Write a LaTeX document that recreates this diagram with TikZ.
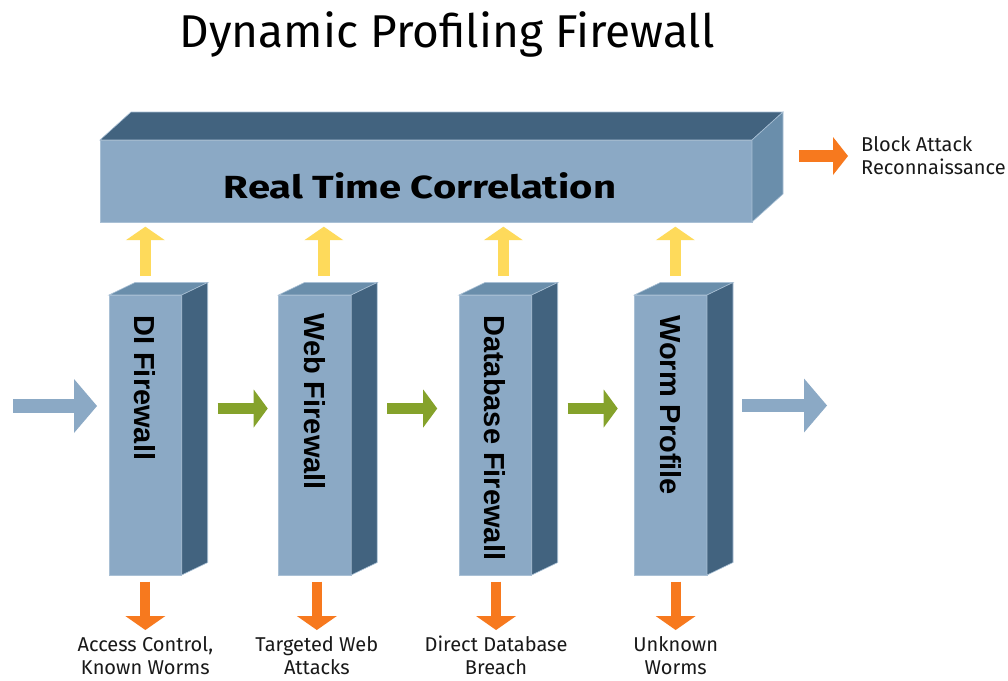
\documentclass[tikz,border=0pt]{standalone}
\usepackage{fontspec}
\setmainfont{Fira Sans}
\newfontfamily\pillarfont{Liberation Sans}
\newfontfamily\widefont[FakeStretch=1.25]{Fira Sans}
\usetikzlibrary{arrows.meta,calc,positioning}

\definecolor{frontblue}{HTML}{8BA9C5}
\definecolor{darkface}{HTML}{42637F}
\definecolor{midface}{HTML}{6A8EAB}
\definecolor{edgeblue}{HTML}{A9C0D5}
\definecolor{feedyellow}{HTML}{FEDA5B}
\definecolor{alarmorange}{HTML}{F7791E}
\definecolor{passgreen}{HTML}{85A22B}

\tikzset{
  front/.style={fill=frontblue,draw=edgeblue,line width=0.6pt,inner sep=0pt,outer sep=0pt},
  face/.style={fill=#1,draw=edgeblue,line width=0.6pt},
  pillar/.style={front,minimum width=72.7pt,minimum height=280pt,anchor=north west},
  pillarlabel/.style={font=\pillarfont\bfseries\fontsize{29}{33}\selectfont,rotate=-90,anchor=west,inner sep=0pt},
  note/.style={font=\fontsize{20}{23}\selectfont,inner sep=0pt,align=center,text=black!90},
  inflow/.style={draw=frontblue,line width=13.5pt,-{Triangle[length=23pt,width=54pt,line width=0pt]}},
  pass/.style={draw=passgreen,line width=11pt,-{Triangle[length=14pt,width=38pt,line width=0pt]}},
  feed/.style={draw=feedyellow,line width=11.5pt,-{Triangle[length=13.5pt,width=39pt,line width=0pt]}},
  drop/.style={draw=alarmorange,line width=10pt,-{Triangle[length=14pt,width=40pt,line width=0pt]}},
  alarm/.style={draw=alarmorange,line width=12pt,-{Triangle[length=15pt,width=38pt,line width=0pt]}}
}

\begin{document}
\begin{tikzpicture}[x=1pt,y=-1pt]
\path[fill=white] (0,0) rectangle (1008,680);
\useasboundingbox (0,0) rectangle (1008,680);

\node[font=\fontsize{46}{50}\selectfont] (title) at (447,34) {Dynamic Profiling Firewall};

% correlation bar
\node[front,minimum width=652pt,minimum height=82pt,anchor=north west] (rtc) at (100,140) {};
\path[face=darkface] (rtc.north west) -- ++(31,-28) -- ++(652,0) -- (rtc.north east) -- cycle;
\path[face=midface] (rtc.north east) -- ++(31,-28) -- ++(0,82) -- (rtc.south east) -- cycle;
\node[font=\widefont\bfseries\fontsize{32}{36}\selectfont,inner sep=0pt] (rtclabel)
  at ($(rtc.center)+(-6,5)$) {Real Time Correlation};

% the four pillars
\node[pillar] (di) at (109,295) {};
\node[pillar] (web) at (278.5,295) {};
\node[pillar] (db) at (459,295) {};
\node[pillar] (worm) at (634.3,295) {};
\foreach \p in {di,web,db,worm}
{
  \path[face=midface] (\p.north west) -- ++(26,-12.5) -- ++(72.7,0) -- (\p.north east) -- cycle;
  \path[face=darkface] (\p.north east) -- ++(26,-12.5) -- ++(0,280) -- (\p.south east) -- cycle;
}
\node[pillarlabel] (dilabel) at ([yshift=-20pt]di.north) {DI Firewall};
\node[pillarlabel] (weblabel) at ([yshift=-18pt]web.north) {Web Firewall};
\node[pillarlabel] (dblabel) at ([yshift=-20pt]db.north) {Database Firewall};
\node[pillarlabel] (wormlabel) at ([yshift=-20pt]worm.north) {Worm Profile};

% traffic through the chain
\draw[inflow] ($(di.west)+(-96,-29)$) -- ($(di.west)+(-12,-29)$);
\foreach \a/\b in {di/web,web/db,db/worm}
  \draw[pass] ($(\a.east)+(36,-26.5)$) -- ++(50,0);
\draw[inflow] ($(worm.east)+(35,-29.5)$) -- ++(85,0);

% feeds up, alerts down
\foreach \p/\dx/\ddx in {di/0/0,web/9/2,db/8/0.7,worm/4.7/5}
{
  \draw[feed] ($(\p.north)+(\dx,-19.3)$) -- ++(0,-49);
  \draw[drop] ($(\p.south)+(\ddx,6.7)$) -- ++(0,48.3) coordinate (\p tip);
}
\node[note,below=6pt of ditip] (dinote) {Access Control,\\Known Worms};
\node[note,below=6pt of webtip] (webnote) {Targeted Web\\Attacks};
\node[note,below=6pt of dbtip] (dbnote) {Direct Database\\Breach};
\node[note,below=6pt of wormtip] (wormnote) {Unknown\\Worms};

\draw[alarm] ($(rtc.east)+(47,-25)$) -- ++(49,0) coordinate (alarmtip);
\node[note,align=left,anchor=west] (alarmnote) at ($(alarmtip)+(13,0)$) {Block Attack\\Reconnaissance};
\end{tikzpicture}
\end{document}
